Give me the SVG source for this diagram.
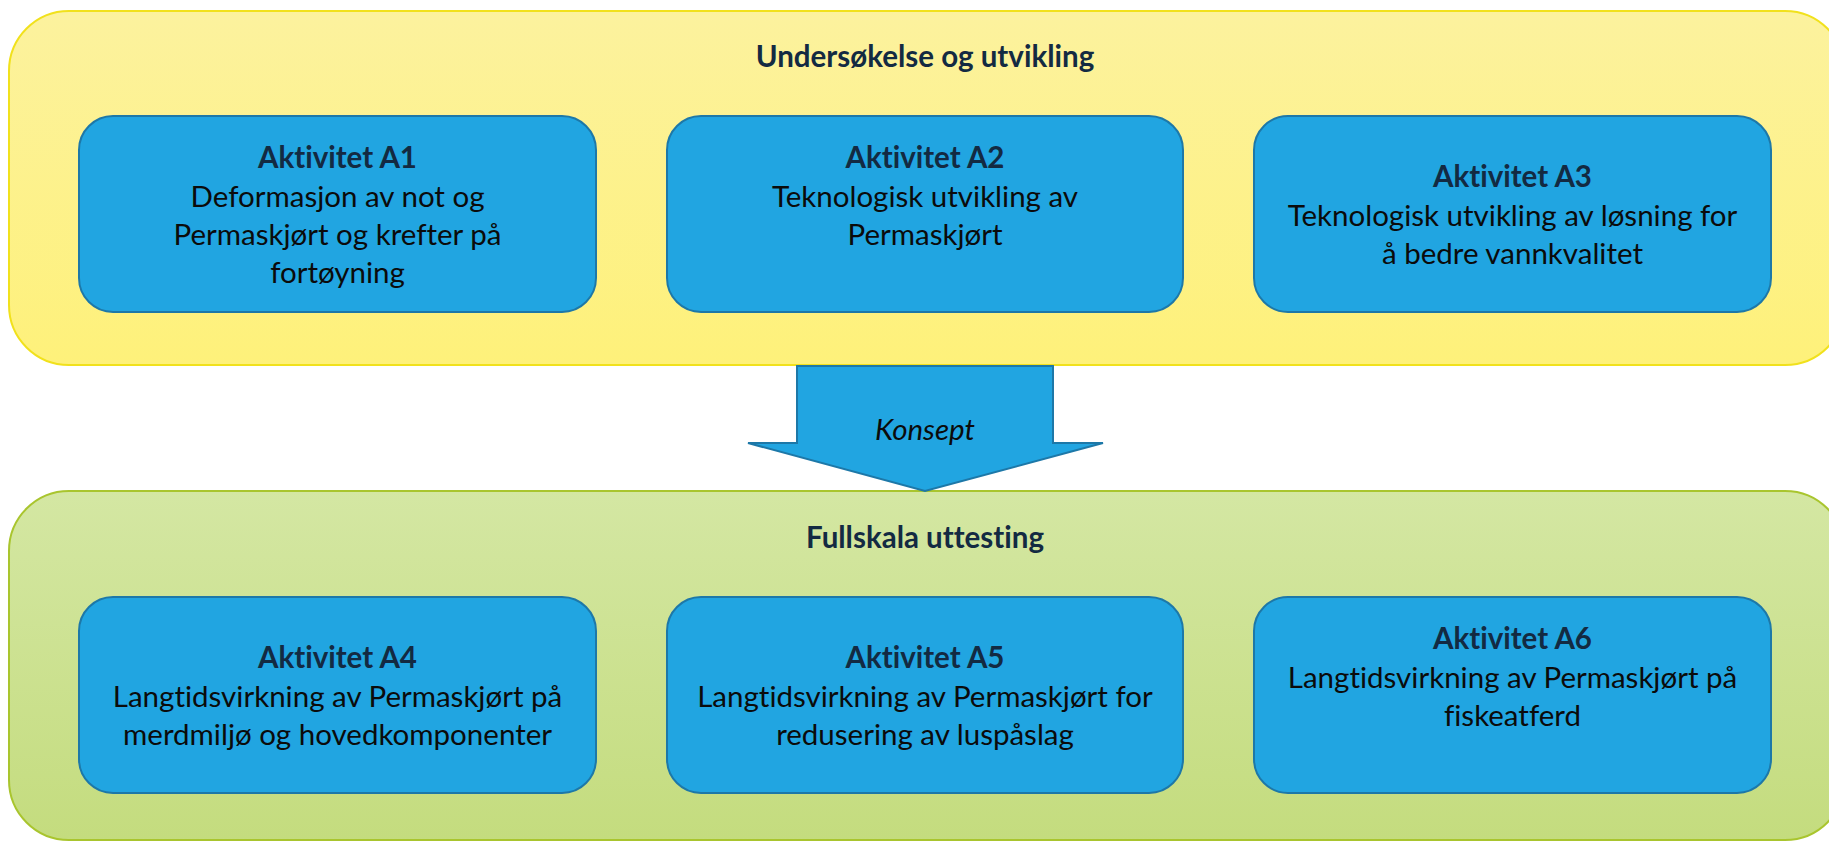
<svg xmlns="http://www.w3.org/2000/svg" width="1829" height="842" viewBox="0 0 1829 842">
<defs>
<linearGradient id="gTop" x1="0" y1="0" x2="0" y2="1">
<stop offset="0" stop-color="#FCF29E"/>
<stop offset="1" stop-color="#FEF17A"/>
</linearGradient>
<linearGradient id="gBot" x1="0" y1="0" x2="0" y2="1">
<stop offset="0" stop-color="#D4E7A3"/>
<stop offset="1" stop-color="#C4DC7E"/>
</linearGradient>
<style>
text{font-variant-ligatures:none}
.box{fill:#21A5E1;stroke:#1D78A8;stroke-width:2}
.t{font-family:Lato,"Liberation Sans",sans-serif;font-size:29.5px;text-anchor:middle;fill:#0B0B0B}
.b{font-weight:bold;fill:#132A42}
.h{font-family:Lato,"Liberation Sans",sans-serif;font-size:29.5px;font-weight:bold;text-anchor:middle;fill:#132A42}
</style>
</defs>
<g id="stage-top">
<rect x="9" y="11" width="1836" height="354" rx="60" fill="url(#gTop)" stroke="#F1E11C" stroke-width="2"/>
<text class="h" x="925" y="67">Undersøkelse og utvikling</text>
</g>
<g id="stage-bottom">
<rect x="9" y="491" width="1836" height="349" rx="60" fill="url(#gBot)" stroke="#A9C52E" stroke-width="2"/>
<text class="h" x="925" y="548">Fullskala uttesting</text>
</g>
<g id="connectors">
<polygon points="797,366 1053,366 1053,443 1103,443 925,491 748,443 797,443" fill="#21A5E1" stroke="#1D78A8" stroke-width="2"/>
<text class="t" x="925" y="440" font-style="italic" fill="#132A42">Konsept</text>
</g>
<g id="A1">
<rect class="box" x="79" y="116" width="517" height="196" rx="34"/>
<text class="t" x="337.5"><tspan class="b" x="337.5" y="168">Aktivitet A1</tspan><tspan x="337.5" y="207">Deformasjon av not og</tspan><tspan x="337.5" y="245">Permaskjørt og krefter på</tspan><tspan x="337.5" y="283">fortøyning</tspan></text>
</g>
<g id="A2">
<rect class="box" x="667" y="116" width="516" height="196" rx="34"/>
<text class="t" x="925"><tspan class="b" x="925" y="168">Aktivitet A2</tspan><tspan x="925" y="207">Teknologisk utvikling av</tspan><tspan x="925" y="245">Permaskjørt</tspan></text>
</g>
<g id="A3">
<rect class="box" x="1254" y="116" width="517" height="196" rx="34"/>
<text class="t" x="1512.5"><tspan class="b" x="1512.5" y="187">Aktivitet A3</tspan><tspan x="1512.5" y="225.5">Teknologisk utvikling av løsning for</tspan><tspan x="1512.5" y="264">å bedre vannkvalitet</tspan></text>
</g>
<g id="A4">
<rect class="box" x="79" y="597" width="517" height="196" rx="34"/>
<text class="t" x="337.5"><tspan class="b" x="337.5" y="668">Aktivitet A4</tspan><tspan x="337.5" y="706.5">Langtidsvirkning av Permaskjørt på</tspan><tspan x="337.5" y="745">merdmiljø og hovedkomponenter</tspan></text>
</g>
<g id="A5">
<rect class="box" x="667" y="597" width="516" height="196" rx="34"/>
<text class="t" x="925"><tspan class="b" x="925" y="668">Aktivitet A5</tspan><tspan x="925" y="706.5">Langtidsvirkning av Permaskjørt for</tspan><tspan x="925" y="745">redusering av luspåslag</tspan></text>
</g>
<g id="A6">
<rect class="box" x="1254" y="597" width="517" height="196" rx="34"/>
<text class="t" x="1512.5"><tspan class="b" x="1512.5" y="649">Aktivitet A6</tspan><tspan x="1512.5" y="687.5">Langtidsvirkning av Permaskjørt på</tspan><tspan x="1512.5" y="726">fiskeatferd</tspan></text>
</g>
</svg>
